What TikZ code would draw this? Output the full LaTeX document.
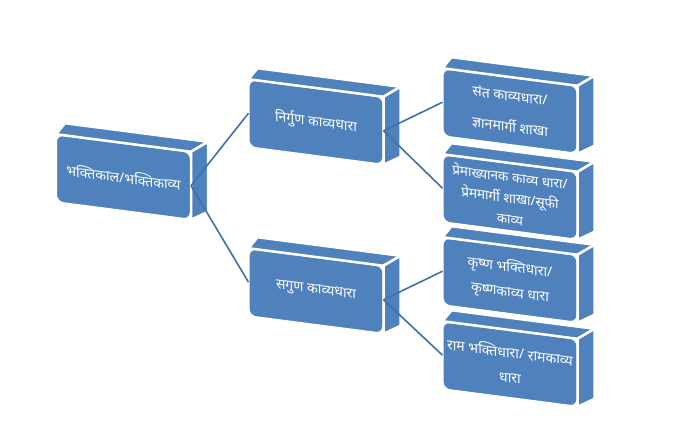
\documentclass[tikz,border=0pt]{standalone}
\usepackage{fontspec}
\newfontfamily\devfont[Script=Devanagari]{Noto Sans}
\usetikzlibrary{calc, positioning}
\definecolor{boxblue}{HTML}{4F81BD}
\definecolor{lineblue}{HTML}{4070A8}
\newcommand{\sidefaces}[1]{%
  \path[sideface] (#1.north west) -- ($(#1.north west)+(9,-11)$) -- ($(#1.north east)+(17,-10)$) -- (#1.north east) -- cycle;
  \path[sideface] (#1.north east) -- ($(#1.north east)+(17,-10)$) -- ($(#1.south east)+(17,-8)$) -- (#1.south east) -- cycle;}

\begin{document}
\begin{tikzpicture}[x=1pt, y=-1pt,
  frontbox/.style={draw=white, line width=1pt, fill=boxblue, rounded corners=7pt,
    minimum width=134pt, minimum height=67pt, inner sep=1pt, yslant=-0.13,
    text=white, align=center, font=\devfont\fontsize{14}{25}\selectfont},
  sideface/.style={fill=boxblue, draw=white, line width=2.5pt, line join=round},
  link/.style={draw=lineblue, line width=1.6pt}]
  \useasboundingbox (0,0) rectangle (676,435);
  \node[frontbox] (ram) at (510,364) {राम भक्तिधारा/ रामकाव्य\\धारा};
  \sidefaces{ram}
  \node[frontbox] (krishna) at (510,280) {कृष्ण भक्तिधारा/\\कृष्णकाव्य धारा};
  \sidefaces{krishna}
  \node[frontbox, font=\devfont\fontsize{13.5}{21}\selectfont] (prem) at (510,197) {प्रेमाख्यानक काव्य धारा/\\प्रेममार्गी शाखा/सूफी\\काव्य};
  \sidefaces{prem}
  \node[frontbox] (sant) at (510,111) {संत काव्यधारा/\\[6pt]ज्ञानमार्गी शाखा};
  \sidefaces{sant}
  \node[frontbox] (sagun) at (316,291) {सगुण काव्यधारा};
  \sidefaces{sagun}
  \node[frontbox] (nirgun) at (316,122) {निर्गुण काव्यधारा};
  \sidefaces{nirgun}
  \node[frontbox] (bhakti) at (123.5,177) {भक्तिकाल/भक्तिकाव्य};
  \sidefaces{bhakti}
  \draw[link] (bhakti.east) -- (nirgun.west);
  \draw[link] (bhakti.east) -- (sagun.west);
  \draw[link] (nirgun.east) -- (sant.west);
  \draw[link] (nirgun.east) -- (prem.west);
  \draw[link] (sagun.east) -- (krishna.west);
  \draw[link] (sagun.east) -- (ram.west);
\end{tikzpicture}
\end{document}
